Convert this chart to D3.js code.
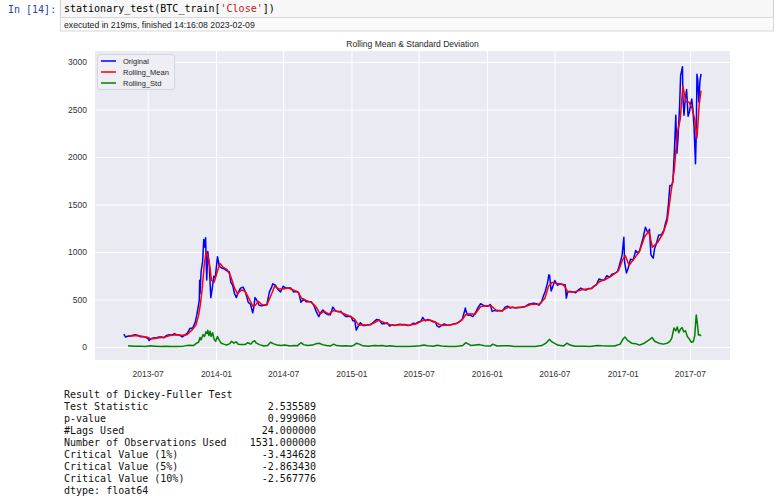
<!DOCTYPE html>
<html><head><meta charset="utf-8">
<script src="https://cdn.jsdelivr.net/npm/d3@7"></script>
<style>
body{margin:0;background:#fff;width:780px;height:500px;overflow:hidden;}
svg{display:block}
</style></head><body>
<svg id="c" width="780" height="500"></svg>
<script>
// ---------- DATA ----------
const chartTitle = "Rolling Mean & Standard Deviation";
const seriesNames = ["Original", "Rolling_Mean", "Rolling_Std"];
const yTicks = [0, 500, 1000, 1500, 2000, 2500, 3000];
const xTicks = ["2013-07-01","2014-01-01","2014-07-01","2015-01-01","2015-07-01","2016-01-01","2016-07-01","2017-01-01","2017-07-01"];

const originalData = [
["2013-04-28",135],["2013-05-02",105],["2013-05-08",113],["2013-05-15",114],["2013-05-22",123],["2013-05-29",129],
["2013-06-05",121],["2013-06-12",108],["2013-06-19",108],["2013-06-26",102],["2013-07-02",88],["2013-07-05",68],
["2013-07-10",88],["2013-07-17",96],["2013-07-24",95],["2013-07-31",106],["2013-08-07",106],["2013-08-14",98],
["2013-08-21",122],["2013-08-28",130],["2013-09-04",125],["2013-09-11",139],["2013-09-18",127],["2013-09-25",125],
["2013-10-02",105],["2013-10-09",125],["2013-10-16",147],["2013-10-23",197],["2013-10-30",197],["2013-11-06",260],
["2013-11-10",330],["2013-11-14",420],["2013-11-17",492],["2013-11-18",703],["2013-11-19",560],["2013-11-22",800],
["2013-11-26",900],["2013-11-29",1132],["2013-12-02",1050],["2013-12-04",1151],["2013-12-07",705],["2013-12-10",1005],
["2013-12-14",860],["2013-12-18",520],["2013-12-22",620],["2013-12-26",745],["2013-12-30",730],["2014-01-05",950],
["2014-01-10",850],["2014-01-17",830],["2014-01-24",820],["2014-01-31",800],["2014-02-06",790],["2014-02-10",680],
["2014-02-15",650],["2014-02-20",560],["2014-02-25",520],["2014-03-01",565],["2014-03-08",620],["2014-03-15",630],
["2014-03-22",570],["2014-03-29",470],["2014-04-04",450],["2014-04-10",360],["2014-04-13",420],["2014-04-16",520],
["2014-04-20",500],["2014-04-27",440],["2014-05-04",435],["2014-05-11",440],["2014-05-18",445],["2014-05-25",580],
["2014-05-31",630],["2014-06-03",665],["2014-06-10",650],["2014-06-17",605],["2014-06-24",580],["2014-07-01",640],
["2014-07-08",620],["2014-07-15",620],["2014-07-22",620],["2014-07-29",580],["2014-08-05",585],["2014-08-12",570],
["2014-08-18",470],["2014-08-25",505],["2014-09-01",475],["2014-09-08",475],["2014-09-15",475],["2014-09-22",435],
["2014-09-28",375],["2014-10-05",320],["2014-10-10",360],["2014-10-16",390],["2014-10-23",355],["2014-10-30",340],
["2014-11-05",340],["2014-11-12",420],["2014-11-19",380],["2014-11-26",370],["2014-12-03",375],["2014-12-10",345],
["2014-12-17",320],["2014-12-24",320],["2014-12-31",320],["2015-01-05",275],["2015-01-10",275],["2015-01-14",178],
["2015-01-18",210],["2015-01-25",255],["2015-02-01",225],["2015-02-08",225],["2015-02-15",235],["2015-02-22",235],
["2015-03-01",260],["2015-03-10",290],["2015-03-17",285],["2015-03-24",245],["2015-03-31",245],["2015-04-07",255],
["2015-04-14",220],["2015-04-21",235],["2015-04-28",225],["2015-05-05",235],["2015-05-12",240],["2015-05-19",232],
["2015-05-26",237],["2015-06-02",225],["2015-06-09",229],["2015-06-16",250],["2015-06-23",245],["2015-06-30",263],
["2015-07-07",270],["2015-07-12",310],["2015-07-19",275],["2015-07-26",290],["2015-08-02",280],["2015-08-09",265],
["2015-08-16",260],["2015-08-19",225],["2015-08-25",210],["2015-09-01",228],["2015-09-08",243],["2015-09-15",230],
["2015-09-22",231],["2015-09-29",236],["2015-10-06",246],["2015-10-13",250],["2015-10-20",270],["2015-10-27",295],
["2015-11-04",410],["2015-11-06",375],["2015-11-10",335],["2015-11-17",335],["2015-11-24",320],["2015-12-01",360],
["2015-12-08",415],["2015-12-15",455],["2015-12-22",440],["2015-12-29",430],["2016-01-05",432],["2016-01-10",447],
["2016-01-15",375],["2016-01-22",385],["2016-01-29",380],["2016-02-05",385],["2016-02-12",380],["2016-02-19",420],
["2016-02-26",430],["2016-03-04",410],["2016-03-11",420],["2016-03-18",410],["2016-03-25",416],["2016-04-01",416],
["2016-04-08",420],["2016-04-15",430],["2016-04-22",450],["2016-04-29",455],["2016-05-06",460],["2016-05-13",455],
["2016-05-20",440],["2016-05-27",470],["2016-06-01",535],["2016-06-06",585],["2016-06-12",670],["2016-06-16",760],
["2016-06-18",750],["2016-06-22",590],["2016-06-26",630],["2016-07-02",700],["2016-07-09",650],["2016-07-16",665],
["2016-07-23",655],["2016-07-30",655],["2016-08-02",515],["2016-08-06",585],["2016-08-13",585],["2016-08-20",580],
["2016-08-27",570],["2016-09-03",600],["2016-09-10",620],["2016-09-17",605],["2016-09-24",600],["2016-10-01",615],
["2016-10-08",615],["2016-10-15",640],["2016-10-22",655],["2016-10-29",715],["2016-11-05",705],["2016-11-12",705],
["2016-11-19",750],["2016-11-26",735],["2016-12-03",765],["2016-12-10",775],["2016-12-17",790],["2016-12-21",830],
["2016-12-25",890],["2016-12-30",960],["2017-01-04",1155],["2017-01-06",890],["2017-01-11",780],["2017-01-15",820],
["2017-01-22",925],["2017-01-29",915],["2017-02-05",1015],["2017-02-10",990],["2017-02-15",1010],["2017-02-20",1080],
["2017-02-25",1150],["2017-03-03",1260],["2017-03-10",1200],["2017-03-14",1240],["2017-03-18",970],["2017-03-24",935],
["2017-03-28",1040],["2017-04-01",1080],["2017-04-08",1180],["2017-04-15",1180],["2017-04-22",1230],["2017-04-26",1300],
["2017-04-30",1350],["2017-05-04",1500],["2017-05-08",1700],["2017-05-12",1700],["2017-05-16",1730],["2017-05-20",2050],
["2017-05-24",2440],["2017-05-25",2300],["2017-05-27",2040],["2017-05-30",2200],["2017-06-03",2520],["2017-06-06",2860],
["2017-06-11",2950],["2017-06-12",2640],["2017-06-15",2440],["2017-06-18",2590],["2017-06-22",2710],["2017-06-26",2430],
["2017-06-30",2480],["2017-07-03",2560],["2017-07-06",2610],["2017-07-09",2500],["2017-07-12",2330],["2017-07-16",1930],
["2017-07-18",2230],["2017-07-20",2870],["2017-07-22",2820],["2017-07-25",2580],["2017-07-28",2800],["2017-07-31",2875]
];

const rollingMeanData = [
["2013-05-09",117],["2013-05-20",115],["2013-06-01",122],["2013-06-15",113],["2013-06-30",102],["2013-07-10",85],
["2013-07-20",90],["2013-08-01",98],["2013-08-15",102],["2013-09-01",122],["2013-09-15",130],["2013-10-01",124],
["2013-10-15",130],["2013-10-30",185],["2013-11-08",230],["2013-11-15",330],["2013-11-20",450],["2013-11-25",620],
["2013-11-30",850],["2013-12-05",1000],["2013-12-10",960],["2013-12-15",860],["2013-12-20",700],["2013-12-27",680],
["2014-01-05",800],["2014-01-12",880],["2014-01-20",840],["2014-01-31",815],["2014-02-10",740],["2014-02-20",620],
["2014-02-28",560],["2014-03-10",600],["2014-03-20",590],["2014-03-31",510],["2014-04-10",430],["2014-04-17",440],
["2014-04-25",480],["2014-05-05",445],["2014-05-18",442],["2014-05-31",560],["2014-06-08",640],["2014-06-20",610],
["2014-07-01",610],["2014-07-15",620],["2014-07-31",595],["2014-08-10",580],["2014-08-20",510],["2014-09-01",490],
["2014-09-15",470],["2014-09-28",420],["2014-10-08",350],["2014-10-20",375],["2014-11-01",345],["2014-11-15",385],
["2014-11-30",370],["2014-12-15",345],["2014-12-31",320],["2015-01-10",290],["2015-01-20",230],["2015-01-31",235],
["2015-02-15",230],["2015-03-01",250],["2015-03-15",280],["2015-03-31",255],["2015-04-15",235],["2015-05-01",228],
["2015-05-20",236],["2015-06-05",228],["2015-06-25",245],["2015-07-10",275],["2015-07-20",285],["2015-08-05",280],
["2015-08-20",250],["2015-09-01",225],["2015-09-20",232],["2015-10-10",245],["2015-10-25",280],["2015-11-05",340],
["2015-11-15",350],["2015-11-30",345],["2015-12-15",425],["2015-12-31",435],["2016-01-12",435],["2016-01-25",390],
["2016-02-10",380],["2016-02-28",420],["2016-03-15",412],["2016-04-10",420],["2016-04-30",450],["2016-05-20",450],
["2016-06-05",510],["2016-06-15",640],["2016-06-25",680],["2016-07-05",670],["2016-07-25",658],["2016-08-06",580],
["2016-08-25",580],["2016-09-15",605],["2016-10-10",615],["2016-10-31",690],["2016-11-15",710],["2016-12-01",745],
["2016-12-20",800],["2017-01-01",920],["2017-01-08",960],["2017-01-18",860],["2017-02-01",930],["2017-02-15",1005],
["2017-03-01",1160],["2017-03-12",1220],["2017-03-22",1050],["2017-04-05",1100],["2017-04-20",1200],["2017-05-01",1330],
["2017-05-10",1600],["2017-05-20",1870],["2017-05-28",2250],["2017-06-05",2400],["2017-06-12",2750],["2017-06-20",2580],
["2017-06-28",2580],["2017-07-06",2520],["2017-07-14",2400],["2017-07-20",2200],["2017-07-26",2550],["2017-07-31",2700]
];

const rollingStdData = [
["2013-05-09",12],["2013-05-25",8],["2013-06-10",9],["2013-06-25",6],["2013-07-08",12],["2013-07-20",8],
["2013-08-05",4],["2013-08-20",8],["2013-09-01",6],["2013-09-20",5],["2013-10-05",9],["2013-10-20",18],
["2013-11-01",15],["2013-11-10",40],["2013-11-15",50],["2013-11-19",100],["2013-11-22",75],["2013-11-27",130],
["2013-12-01",110],["2013-12-05",160],["2013-12-08",140],["2013-12-10",175],["2013-12-13",120],["2013-12-16",165],
["2013-12-19",110],["2013-12-23",150],["2013-12-27",80],["2013-12-31",60],["2014-01-05",110],["2014-01-10",70],
["2014-01-15",40],["2014-01-22",30],["2014-01-30",20],["2014-02-07",35],["2014-02-12",60],["2014-02-18",40],
["2014-02-24",55],["2014-03-02",30],["2014-03-10",25],["2014-03-20",25],["2014-03-28",45],["2014-04-05",30],
["2014-04-10",55],["2014-04-15",65],["2014-04-20",40],["2014-04-28",25],["2014-05-10",10],["2014-05-20",15],
["2014-05-28",50],["2014-06-04",35],["2014-06-15",20],["2014-06-25",15],["2014-07-05",20],["2014-07-20",10],
["2014-07-30",15],["2014-08-08",12],["2014-08-18",45],["2014-08-25",25],["2014-09-05",15],["2014-09-18",20],
["2014-09-28",35],["2014-10-06",40],["2014-10-15",25],["2014-10-25",15],["2014-11-05",10],["2014-11-14",30],
["2014-11-22",15],["2014-12-05",10],["2014-12-18",12],["2014-12-31",8],["2015-01-08",20],["2015-01-15",40],
["2015-01-22",30],["2015-02-01",12],["2015-02-15",8],["2015-03-05",15],["2015-03-15",12],["2015-03-25",15],
["2015-04-05",8],["2015-04-15",12],["2015-05-01",6],["2015-05-20",5],["2015-06-05",5],["2015-06-20",8],
["2015-07-05",12],["2015-07-15",20],["2015-07-25",12],["2015-08-10",8],["2015-08-20",18],["2015-09-01",10],
["2015-09-20",5],["2015-10-10",6],["2015-10-28",15],["2015-11-05",45],["2015-11-10",35],["2015-11-20",15],
["2015-12-01",20],["2015-12-12",25],["2015-12-25",12],["2016-01-10",10],["2016-01-17",30],["2016-01-28",10],
["2016-02-15",12],["2016-03-01",12],["2016-03-15",5],["2016-04-01",4],["2016-04-20",6],["2016-05-10",5],
["2016-05-28",15],["2016-06-08",40],["2016-06-14",65],["2016-06-18",80],["2016-06-22",60],["2016-06-28",45],
["2016-07-10",20],["2016-07-25",10],["2016-08-04",40],["2016-08-12",20],["2016-08-25",8],["2016-09-15",8],
["2016-10-05",6],["2016-10-25",15],["2016-11-05",12],["2016-11-25",10],["2016-12-10",10],["2016-12-25",30],
["2017-01-03",90],["2017-01-07",105],["2017-01-14",70],["2017-01-25",40],["2017-02-05",35],["2017-02-15",20],
["2017-02-28",40],["2017-03-07",60],["2017-03-15",80],["2017-03-21",100],["2017-03-28",60],["2017-04-08",40],
["2017-04-20",30],["2017-05-01",40],["2017-05-08",60],["2017-05-13",90],["2017-05-19",200],["2017-05-24",170],
["2017-05-28",210],["2017-06-01",150],["2017-06-06",190],["2017-06-10",205],["2017-06-14",160],["2017-06-19",170],
["2017-06-24",110],["2017-06-30",80],["2017-07-05",50],["2017-07-10",55],["2017-07-14",120],["2017-07-18",337],
["2017-07-21",250],["2017-07-24",126],["2017-07-27",130],["2017-07-31",116]
];

const dfTitle = "Result of Dickey-Fuller Test";
const dfLabels = ["Test Statistic","p-value","#Lags Used","Number of Observations Used","Critical Value (1%)","Critical Value (5%)","Critical Value (10%)"];
const dfValues = ["2.535589","0.999060","24.000000","1531.000000","-3.434628","-2.863430","-2.567776"];
const dfDtype = "dtype: float64";

// ---------- DRAW ----------
const svg = d3.select("#c");
const parse = d3.timeParse("%Y-%m-%d");
const mono = "'DejaVu Sans Mono', monospace";
const sans = "'Liberation Sans', Arial, sans-serif";

// notebook chrome
svg.append("text").attr("x", 8).attr("y", 13).attr("font-family", mono).attr("font-size", 10)
  .attr("fill", "#303F9F").text("In [14]:");
svg.append("rect").attr("x", 60.5).attr("y", -1).attr("width", 713).attr("height", 18.5)
  .attr("fill", "#f7f7f7").attr("stroke", "#cfcfcf");
svg.append("rect").attr("x", 60.5).attr("y", 17.5).attr("width", 713).attr("height", 13.5)
  .attr("fill", "#fafafa").attr("stroke", "#d8d8d8");
const code = svg.append("text").attr("x", 64).attr("y", 12).attr("font-family", mono).attr("font-size", 10)
  .attr("fill", "#000");
code.append("tspan").text("stationary_test(BTC_train[");
code.append("tspan").attr("fill", "#BA2121").text("'Close'");
code.append("tspan").text("])");
svg.append("text").attr("x", 64).attr("y", 27.5).attr("font-family", sans).attr("font-size", 8.7)
  .attr("fill", "#222").text("executed in 219ms, finished 14:16:08 2023-02-09");

// chart
const L = 95, R = 730, T = 51, B = 360;
const x = d3.scaleTime().domain([parse("2013-02-09"), parse("2017-10-17")]).range([L, R]);
const y = d3.scaleLinear().domain([-137, 3116]).range([B, T]);

svg.append("rect").attr("x", L).attr("y", T).attr("width", R - L).attr("height", B - T).attr("fill", "#EAEAF2");

const xAxis = svg.append("g").attr("transform", `translate(0,${B})`)
  .call(d3.axisBottom(x).tickValues(xTicks.map(parse)).tickFormat(d3.timeFormat("%Y-%m"))
    .tickSize(-(B - T)).tickPadding(11));
xAxis.select(".domain").remove();
xAxis.selectAll("line").attr("stroke", "#fff").attr("stroke-width", 1);
xAxis.selectAll("text").attr("font-family", sans).attr("font-size", 8.5).attr("fill", "#333");

const yAxis = svg.append("g").attr("transform", `translate(${L},0)`)
  .call(d3.axisLeft(y).tickValues(yTicks).tickFormat(d3.format("d")).tickSize(-(R - L)).tickPadding(8));
yAxis.select(".domain").remove();
yAxis.selectAll("line").attr("stroke", "#fff").attr("stroke-width", 1);
yAxis.selectAll("text").attr("font-family", sans).attr("font-size", 8.5).attr("fill", "#333");

const line = d3.line().x(d => x(parse(d[0]))).y(d => y(d[1]));
const colors = ["#0000ff", "#ff0000", "#008000"];
[originalData, rollingMeanData, rollingStdData].forEach((data, i) => {
  svg.append("path").datum(data).attr("d", line).attr("fill", "none")
    .attr("stroke", colors[i]).attr("stroke-width", 1.5).attr("stroke-linejoin", "round");
});

svg.append("text").attr("x", (L + R) / 2).attr("y", 47).attr("text-anchor", "middle")
  .attr("font-family", sans).attr("font-size", 8.5).attr("fill", "#262626").text(chartTitle);

// legend
const lg = svg.append("g");
lg.append("rect").attr("x", 97.5).attr("y", 54.5).attr("width", 77).attr("height", 35).attr("rx", 2)
  .attr("fill", "#eeeef4").attr("stroke", "#d5d5dd");
seriesNames.forEach((n, i) => {
  const yy = 61 + i * 11;
  lg.append("line").attr("x1", 101).attr("x2", 116).attr("y1", yy).attr("y2", yy)
    .attr("stroke", colors[i]).attr("stroke-width", 1.5);
  lg.append("text").attr("x", 123).attr("y", yy + 3).attr("font-family", sans).attr("font-size", 7.5)
    .attr("fill", "#262626").text(n);
});

// output text
const out = svg.append("g").attr("font-family", mono).attr("font-size", 10).attr("fill", "#111");
out.append("text").attr("x", 64).attr("y", 398).text(dfTitle);
dfLabels.forEach((lab, i) => {
  const yy = 410 + i * 12;
  out.append("text").attr("x", 64).attr("y", yy).text(lab);
  out.append("text").attr("x", 316).attr("y", yy).attr("text-anchor", "end").text(dfValues[i]);
});
out.append("text").attr("x", 64).attr("y", 494).text(dfDtype);
</script>
</body></html>
